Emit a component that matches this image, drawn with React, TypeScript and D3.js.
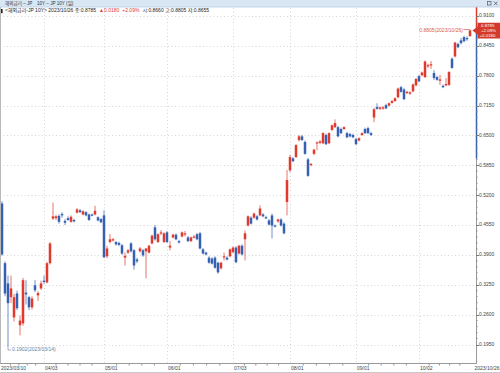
import React from "react";
import * as d3 from "d3";

const W = 500;
const H = 373;

// OHLC values (2023/03/10 .. 2023/10/26, daily)
const opens = [
  0.502, 0.372, 0.328, 0.298, 0.254, 0.306, 0.237, 0.241, 0.308, 0.298,
  0.276, 0.324, 0.302, 0.317, 0.334, 0.330, 0.372, 0.469, 0.470, 0.475,
  0.479, 0.464, 0.470, 0.462, 0.466, 0.482, 0.487, 0.478, 0.483, 0.478,
  0.478, 0.478, 0.472, 0.468, 0.476, 0.387, 0.418, 0.422, 0.418, 0.416,
  0.411, 0.384, 0.395, 0.415, 0.400, 0.380, 0.398, 0.400, 0.398, 0.395,
  0.415, 0.450, 0.418, 0.437, 0.418, 0.439, 0.406, 0.428, 0.434, 0.420,
  0.430, 0.435, 0.428, 0.420, 0.428, 0.435, 0.437, 0.402, 0.395, 0.384,
  0.382, 0.384, 0.373, 0.361, 0.385, 0.384, 0.387, 0.396, 0.406, 0.393,
  0.410, 0.424, 0.454, 0.471, 0.471, 0.474, 0.476, 0.478, 0.472, 0.465,
  0.476, 0.454, 0.463, 0.467, 0.458, 0.505, 0.574, 0.600, 0.603, 0.640,
  0.648, 0.636, 0.598, 0.586, 0.610, 0.633, 0.634, 0.633, 0.651, 0.633,
  0.662, 0.668, 0.668, 0.664, 0.664, 0.655, 0.653, 0.651, 0.642, 0.639,
  0.651, 0.664, 0.666, 0.655, 0.689, 0.712, 0.708, 0.709, 0.716, 0.715,
  0.721, 0.725, 0.733, 0.755, 0.750, 0.743, 0.741, 0.746, 0.759, 0.779,
  0.781, 0.777, 0.801, 0.803, 0.786, 0.777, 0.769, 0.758, 0.759, 0.760,
  0.817, 0.822, 0.849, 0.857, 0.864, 0.862, 0.866,
];
const highs = [
  0.507, 0.376, 0.345, 0.345, 0.305, 0.312, 0.258, 0.340, 0.335, 0.301,
  0.300, 0.335, 0.311, 0.334, 0.345, 0.375, 0.418, 0.504, 0.477, 0.478,
  0.483, 0.468, 0.474, 0.476, 0.469, 0.492, 0.490, 0.487, 0.485, 0.480,
  0.480, 0.497, 0.474, 0.470, 0.487, 0.410, 0.435, 0.427, 0.420, 0.419,
  0.414, 0.395, 0.403, 0.418, 0.403, 0.384, 0.407, 0.403, 0.405, 0.412,
  0.434, 0.455, 0.437, 0.444, 0.439, 0.442, 0.420, 0.436, 0.437, 0.423,
  0.441, 0.442, 0.431, 0.430, 0.433, 0.438, 0.440, 0.405, 0.397, 0.387,
  0.385, 0.387, 0.375, 0.375, 0.395, 0.387, 0.404, 0.408, 0.409, 0.412,
  0.413, 0.443, 0.476, 0.474, 0.482, 0.477, 0.498, 0.481, 0.475, 0.468,
  0.480, 0.456, 0.469, 0.470, 0.461, 0.575, 0.608, 0.603, 0.631, 0.651,
  0.651, 0.639, 0.601, 0.590, 0.621, 0.637, 0.640, 0.657, 0.654, 0.657,
  0.674, 0.685, 0.671, 0.667, 0.670, 0.658, 0.656, 0.654, 0.645, 0.646,
  0.657, 0.667, 0.669, 0.658, 0.710, 0.720, 0.713, 0.714, 0.719, 0.722,
  0.727, 0.733, 0.754, 0.758, 0.753, 0.747, 0.746, 0.763, 0.775, 0.782,
  0.789, 0.813, 0.806, 0.812, 0.792, 0.780, 0.782, 0.761, 0.775, 0.790,
  0.820, 0.854, 0.852, 0.862, 0.867, 0.866, 0.8805,
];
const lows = [
  0.388, 0.300, 0.1902, 0.285, 0.245, 0.270, 0.215, 0.236, 0.282, 0.270,
  0.271, 0.309, 0.290, 0.314, 0.327, 0.328, 0.369, 0.466, 0.466, 0.458,
  0.471, 0.455, 0.464, 0.460, 0.461, 0.480, 0.481, 0.476, 0.474, 0.464,
  0.474, 0.476, 0.463, 0.459, 0.383, 0.383, 0.415, 0.419, 0.410, 0.409,
  0.390, 0.367, 0.392, 0.395, 0.358, 0.372, 0.395, 0.386, 0.339, 0.393,
  0.413, 0.421, 0.416, 0.433, 0.416, 0.416, 0.400, 0.426, 0.422, 0.415,
  0.428, 0.430, 0.418, 0.418, 0.426, 0.422, 0.402, 0.391, 0.389, 0.371,
  0.369, 0.360, 0.349, 0.358, 0.378, 0.378, 0.385, 0.394, 0.372, 0.391,
  0.389, 0.378, 0.452, 0.456, 0.469, 0.465, 0.474, 0.472, 0.468, 0.454,
  0.426, 0.450, 0.460, 0.452, 0.435, 0.476, 0.570, 0.592, 0.601, 0.637,
  0.638, 0.608, 0.560, 0.583, 0.607, 0.618, 0.631, 0.631, 0.629, 0.631,
  0.660, 0.666, 0.646, 0.653, 0.662, 0.644, 0.646, 0.644, 0.629, 0.637,
  0.649, 0.653, 0.653, 0.649, 0.679, 0.706, 0.705, 0.706, 0.707, 0.713,
  0.719, 0.723, 0.731, 0.743, 0.727, 0.740, 0.738, 0.744, 0.757, 0.766,
  0.779, 0.775, 0.797, 0.795, 0.771, 0.769, 0.760, 0.753, 0.757, 0.758,
  0.795, 0.820, 0.840, 0.848, 0.853, 0.856, 0.8655,
];
const closes = [
  0.391, 0.306, 0.285, 0.317, 0.298, 0.274, 0.247, 0.335, 0.304, 0.276,
  0.295, 0.313, 0.307, 0.328, 0.331, 0.372, 0.415, 0.474, 0.474, 0.462,
  0.476, 0.460, 0.466, 0.473, 0.463, 0.489, 0.483, 0.485, 0.476, 0.466,
  0.476, 0.486, 0.465, 0.461, 0.385, 0.404, 0.424, 0.424, 0.413, 0.412,
  0.393, 0.388, 0.400, 0.398, 0.367, 0.376, 0.404, 0.389, 0.404, 0.410,
  0.432, 0.424, 0.435, 0.439, 0.437, 0.418, 0.410, 0.434, 0.424, 0.417,
  0.439, 0.437, 0.420, 0.428, 0.430, 0.424, 0.404, 0.393, 0.391, 0.373,
  0.371, 0.362, 0.352, 0.373, 0.387, 0.380, 0.402, 0.406, 0.374, 0.410,
  0.391, 0.437, 0.474, 0.458, 0.480, 0.467, 0.491, 0.474, 0.470, 0.456,
  0.454, 0.452, 0.467, 0.454, 0.437, 0.553, 0.603, 0.594, 0.629, 0.648,
  0.640, 0.610, 0.562, 0.588, 0.619, 0.635, 0.637, 0.655, 0.631, 0.655,
  0.672, 0.677, 0.648, 0.655, 0.668, 0.646, 0.648, 0.646, 0.631, 0.644,
  0.655, 0.655, 0.655, 0.651, 0.707, 0.708, 0.711, 0.711, 0.709, 0.720,
  0.725, 0.731, 0.752, 0.745, 0.729, 0.745, 0.744, 0.761, 0.773, 0.768,
  0.787, 0.811, 0.803, 0.805, 0.775, 0.771, 0.772, 0.755, 0.762, 0.788,
  0.797, 0.852, 0.842, 0.851, 0.855, 0.8605, 0.8785,
];

const xLabels = ["04/03", "05/01", "06/01", "07/03", "08/01", "09/01", "10/02"];
const xLabelIndex = [14, 34, 55, 77, 96, 118, 139];
const firstDate = "2023/03/10";
const lastDate = "2023/10/26";
const yTicks = [0.91, 0.845, 0.78, 0.715, 0.65, 0.585, 0.52, 0.455, 0.39, 0.325, 0.26, 0.195];

const minIndex = 2;
const minLabel = "0.1902(2023/03/14)";
const maxLabel = "0.8805(2023/10/26)";

const RED = "#e03a2e";
const BLUE = "#3461b2";
const FONT = "'Liberation Sans', Arial, 'Noto Sans CJK KR', sans-serif";

export default function App() {
  const n = closes.length;
  const PLOT_R = 476;
  const AXIS_Y = 363;
  const x = d3.scaleLinear().domain([0, n - 1]).range([2, 470]);
  const y = d3.scaleLinear().domain([0.195, 0.91]).range([344.5, 16]);

  const gridXs = [x(0), ...xLabelIndex.map((i) => x(i)), x(n - 1)];
  const minorX: number[] = [];
  for (let k = 0; k < gridXs.length - 1; k++) {
    const a = gridXs[k];
    const b = gridXs[k + 1];
    for (let j = 1; j < 5; j++) minorX.push(a + ((b - a) * j) / 5);
  }
  const minorY: number[] = [];
  for (let k = 0; k < yTicks.length - 1; k++) {
    const a = y(yTicks[k]);
    const b = y(yTicks[k + 1]);
    for (let j = 1; j < 5; j++) minorY.push(a + ((b - a) * j) / 5);
  }

  const last = n - 1;
  const lastClose = closes[last];
  const chg = lastClose - closes[last - 1];
  const pct = (chg / closes[last - 1]) * 100;
  const BW = 2.5;

  return (
    <svg
      width={W}
      height={H}
      style={{ position: "absolute", left: 0, top: 0, background: "#fff", fontFamily: FONT }}
    >
      <rect x={0} y={0} width={W} height={H} fill="#fff" />
      {/* horizontal grid */}
      {yTicks.map((v) => (
        <line
          key={"hg" + v}
          x1={0}
          x2={PLOT_R}
          y1={Math.round(y(v)) + 0.5}
          y2={Math.round(y(v)) + 0.5}
          stroke="#d6d6d6"
          strokeDasharray="1,2.5"
        />
      ))}
      {/* vertical grid */}
      {xLabelIndex.map((i) => (
        <line
          key={"vg" + i}
          x1={Math.round(x(i)) + 0.5}
          x2={Math.round(x(i)) + 0.5}
          y1={8}
          y2={AXIS_Y}
          stroke="#d6d6d6"
          strokeDasharray="1,2.5"
        />
      ))}

      {/* candles */}
      {closes.map((c, i) => {
        const o = opens[i];
        const up = c >= o;
        const col = up ? RED : BLUE;
        const cx = x(i);
        const top = y(Math.max(o, c));
        const bot = y(Math.min(o, c));
        return (
          <g key={"c" + i}>
            <line x1={cx} x2={cx} y1={y(highs[i])} y2={y(lows[i])} stroke={col} strokeWidth={1} opacity={0.7} />
            <rect x={cx - BW / 2} y={top} width={BW} height={Math.max(1.2, bot - top)} fill={col} />
          </g>
        );
      })}

      {/* min annotation */}
      <path
        d={`M${x(minIndex)},${y(lows[minIndex])} V350 H11`}
        fill="none"
        stroke="#8d9bb0"
        strokeWidth={0.8}
      />
      <text x={12} y={350} fontSize={5} fill="#6b7f9a" dominantBaseline="middle">
        {minLabel}
      </text>

      {/* max annotation */}
      <path
        d={`M463.5,${y(highs[last])} H${x(last)}`}
        fill="none"
        stroke="#e06a5e"
        strokeWidth={0.8}
      />
      <text x={463} y={y(highs[last]) + 0.8} fontSize={5} fill="#e0574a" textAnchor="end" dominantBaseline="middle">
        {maxLabel}
      </text>

      {/* left border */}
      <line x1={0.5} x2={0.5} y1={7} y2={AXIS_Y} stroke="#b8b8b8" />

      {/* x axis */}
      <line x1={0} x2={PLOT_R} y1={AXIS_Y + 0.5} y2={AXIS_Y + 0.5} stroke="#9a9a9a" />
      {minorX.map((mx, k) => (
        <line key={"mx" + k} x1={mx} x2={mx} y1={AXIS_Y + 1} y2={AXIS_Y + 2.5} stroke="#777" strokeWidth={0.8} />
      ))}
      <text x={1} y={368.5} fontSize={5} fill="#444" dominantBaseline="middle">
        {firstDate}
      </text>
      {xLabels.map((l, k) => (
        <text key={"xl" + l} x={x(xLabelIndex[k]) + 1} y={368.5} fontSize={5} fill="#444" dominantBaseline="middle">
          {l}
        </text>
      ))}
      <text x={499.5} y={368.5} fontSize={5} fill="#444" textAnchor="end" dominantBaseline="middle">
        {lastDate}
      </text>
      <line x1={0} x2={W} y1={372.5} y2={372.5} stroke="#c9c9c9" />

      {/* right axis */}
      <line x1={PLOT_R + 0.5} x2={PLOT_R + 0.5} y1={7} y2={AXIS_Y + 1} stroke="#9a9a9a" />
      <line x1={PLOT_R + 0.5} x2={PLOT_R + 0.5} y1={7} y2={28} stroke={RED} strokeWidth={1.5} />
      <line x1={PLOT_R + 0.5} x2={PLOT_R + 0.5} y1={33} y2={y(0.6)} stroke={BLUE} strokeWidth={1.5} />
      {yTicks.map((v) => (
        <g key={"yt" + v}>
          <line x1={PLOT_R} x2={PLOT_R + 3} y1={Math.round(y(v)) + 0.5} y2={Math.round(y(v)) + 0.5} stroke="#777" />
          <text x={479} y={y(v)} fontSize={5} fill="#444" dominantBaseline="middle">
            {v.toFixed(4)}
          </text>
        </g>
      ))}
      {minorY.map((my, k) => (
        <line key={"my" + k} x1={PLOT_R} x2={PLOT_R + 1.8} y1={my} y2={my} stroke="#888" strokeWidth={0.7} />
      ))}

      {/* current price box */}
      <polygon
        points="472.5,30.5 477.5,26.5 477.5,22.8 500,22.8 500,38.5 477.5,38.5 477.5,34.5"
        fill="#d33a2c"
      />
      <g fill="#fff" fontSize={4.4}>
        <text x={481} y={25.8} dominantBaseline="middle">{lastClose.toFixed(4)}</text>
        <text x={481} y={30.6} dominantBaseline="middle">{"+" + pct.toFixed(2) + "%"}</text>
        <text x={479.5} y={35.4} dominantBaseline="middle">{"+" + chg.toFixed(4)}</text>
      </g>

      {/* header bar */}
      <rect x={0} y={0} width={W} height={7} fill="#d9e7f4" />
      <line x1={0} x2={W} y1={7} y2={7} stroke="#b7cde3" strokeWidth={0.8} />
      <text x={5} y={3.6} fontSize={4.6} fill="#333" dominantBaseline="middle">
        해외금리 – JP
      </text>
      <text x={37} y={3.6} fontSize={4.6} fill="#333" dominantBaseline="middle">
        10Y – JP 10Y (일)
      </text>
      <rect x={487.5} y={1.5} width={3.5} height={3.5} fill="none" stroke="#556" strokeWidth={0.7} />
      <path d="M494,1.6 L497.5,5.1 M497.5,1.6 L494,5.1" stroke="#556" strokeWidth={0.8} />

      {/* legend line */}
      <rect x={1} y={9} width={1.6} height={4.2} fill="#222" />
      <text y={11.3} fontSize={5} dominantBaseline="middle">
        <tspan x={5} fill="#222">{"<해외금리-JP 10Y> 2023/10/26 종:" + lastClose.toFixed(4)}</tspan>
        <tspan dx={3} fill={RED}>{"▲" + chg.toFixed(4)}</tspan>
        <tspan dx={3} fill={RED}>{"+" + pct.toFixed(2) + "%"}</tspan>
        <tspan dx={3} fill="#222">
          {"시:" + opens[last].toFixed(4) + " 고:" + highs[last].toFixed(4) + " 저:" + lows[last].toFixed(4)}
        </tspan>
      </text>
    </svg>
  );
}
